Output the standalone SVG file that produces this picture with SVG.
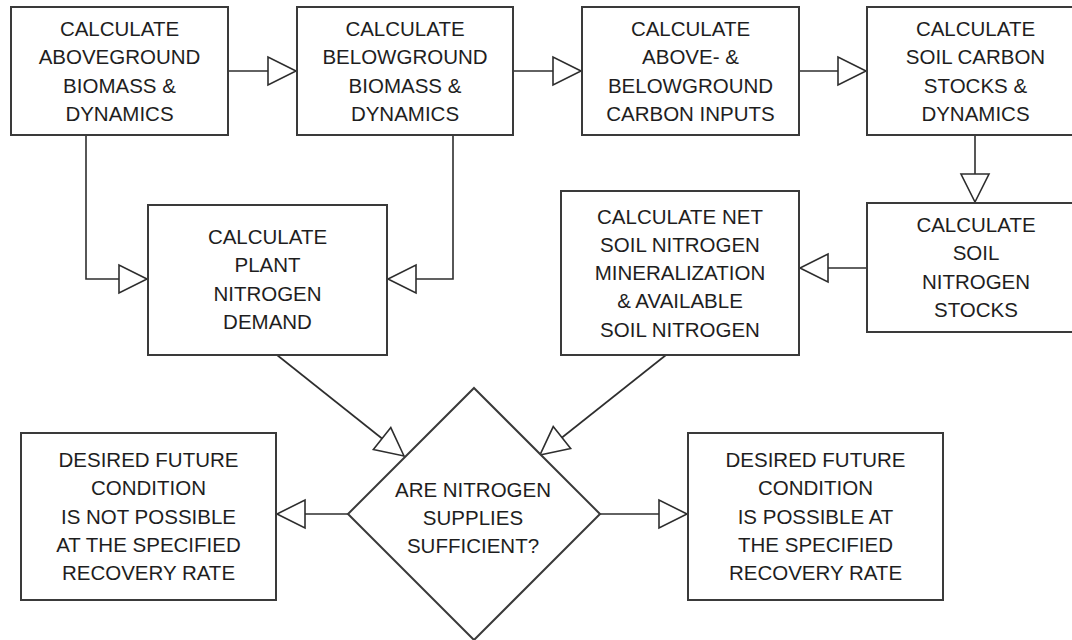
<svg xmlns="http://www.w3.org/2000/svg" width="1072" height="640" viewBox="0 0 1072 640">
  <style>
    .box { fill: #ffffff; stroke: #3a3a3a; stroke-width: 2; }
    .lbl { font-family: "Liberation Sans", Arial, sans-serif; font-size: 20.5px; fill: #1e1e1e; text-anchor: middle; }
    .wire { fill: none; stroke: #2e2e2e; stroke-width: 1.6; marker-end: url(#open-tri); }
  </style>
  <defs>
    <!-- hollow triangular arrowhead, tip sits on the line end -->
    <marker id="open-tri" markerUnits="userSpaceOnUse" markerWidth="34" markerHeight="34" viewBox="-31 -17 34 34" refX="0" refY="0" orient="auto" overflow="visible">
      <path d="M0,0 L-28,-14 L-28,14 Z" fill="#ffffff" stroke="#2e2e2e" stroke-width="1.6" stroke-linejoin="miter"/>
    </marker>
  </defs>
  <rect width="1072" height="640" fill="#ffffff"/>

  <g id="connectors">
    <line class="wire" x1="228" y1="71" x2="296" y2="71"/>
    <line class="wire" x1="513" y1="71" x2="581" y2="71"/>
    <line class="wire" x1="799" y1="71" x2="866" y2="71"/>
    <line class="wire" x1="975" y1="135" x2="975" y2="202"/>
    <line class="wire" x1="867" y1="268" x2="800" y2="268"/>
    <path class="wire" d="M86,135 V279 H147"/>
    <path class="wire" d="M453,135 V279 H388"/>
    <line class="wire" x1="277" y1="355" x2="404" y2="456"/>
    <line class="wire" x1="666" y1="355" x2="540" y2="455"/>
    <line class="wire" x1="348" y1="514" x2="277" y2="514"/>
    <line class="wire" x1="600" y1="514" x2="687" y2="514"/>
  </g>

  <g id="aboveground-biomass">
    <rect class="box" x="11" y="7" width="217" height="128"/>
    <text class="lbl" x="119.5" y="36">CALCULATE</text>
    <text class="lbl" x="119.5" y="64.3">ABOVEGROUND</text>
    <text class="lbl" x="119.5" y="92.6">BIOMASS &amp;</text>
    <text class="lbl" x="119.5" y="120.9">DYNAMICS</text>
  </g>

  <g id="belowground-biomass">
    <rect class="box" x="297" y="7" width="216" height="128"/>
    <text class="lbl" x="405" y="36">CALCULATE</text>
    <text class="lbl" x="405" y="64.3">BELOWGROUND</text>
    <text class="lbl" x="405" y="92.6">BIOMASS &amp;</text>
    <text class="lbl" x="405" y="120.9">DYNAMICS</text>
  </g>

  <g id="carbon-inputs">
    <rect class="box" x="582" y="7" width="217" height="128"/>
    <text class="lbl" x="690.5" y="36">CALCULATE</text>
    <text class="lbl" x="690.5" y="64.3">ABOVE- &amp;</text>
    <text class="lbl" x="690.5" y="92.6">BELOWGROUND</text>
    <text class="lbl" x="690.5" y="120.9">CARBON INPUTS</text>
  </g>

  <g id="soil-carbon">
    <rect class="box" x="867" y="7" width="217" height="128"/>
    <text class="lbl" x="975.5" y="36">CALCULATE</text>
    <text class="lbl" x="975.5" y="64.3">SOIL CARBON</text>
    <text class="lbl" x="975.5" y="92.6">STOCKS &amp;</text>
    <text class="lbl" x="975.5" y="120.9">DYNAMICS</text>
  </g>

  <g id="soil-nitrogen-stocks">
    <rect class="box" x="867" y="203" width="217" height="129"/>
    <text class="lbl" x="976" y="232">CALCULATE</text>
    <text class="lbl" x="976" y="260.3">SOIL</text>
    <text class="lbl" x="976" y="288.6">NITROGEN</text>
    <text class="lbl" x="976" y="316.9">STOCKS</text>
  </g>

  <g id="nitrogen-mineralization">
    <rect class="box" x="561" y="191" width="238" height="164"/>
    <text class="lbl" x="680" y="223.5">CALCULATE NET</text>
    <text class="lbl" x="680" y="251.8">SOIL NITROGEN</text>
    <text class="lbl" x="680" y="280.1">MINERALIZATION</text>
    <text class="lbl" x="680" y="308.4">&amp; AVAILABLE</text>
    <text class="lbl" x="680" y="336.7">SOIL NITROGEN</text>
  </g>

  <g id="plant-nitrogen-demand">
    <rect class="box" x="148" y="205" width="239" height="150"/>
    <text class="lbl" x="267.5" y="244">CALCULATE</text>
    <text class="lbl" x="267.5" y="272.3">PLANT</text>
    <text class="lbl" x="267.5" y="300.6">NITROGEN</text>
    <text class="lbl" x="267.5" y="328.9">DEMAND</text>
  </g>

  <g id="supply-check">
    <polygon class="box" points="474,388 600,514 474,640 348,514" stroke-width="1.6"/>
    <text class="lbl" x="473" y="497">ARE NITROGEN</text>
    <text class="lbl" x="473" y="525">SUPPLIES</text>
    <text class="lbl" x="473" y="553">SUFFICIENT?</text>
  </g>

  <g id="not-possible">
    <rect class="box" x="21" y="433" width="255" height="167"/>
    <text class="lbl" x="148.5" y="467">DESIRED FUTURE</text>
    <text class="lbl" x="148.5" y="495.3">CONDITION</text>
    <text class="lbl" x="148.5" y="523.6">IS NOT POSSIBLE</text>
    <text class="lbl" x="148.5" y="551.9">AT THE SPECIFIED</text>
    <text class="lbl" x="148.5" y="580.2">RECOVERY RATE</text>
  </g>

  <g id="possible">
    <rect class="box" x="688" y="433" width="255" height="167"/>
    <text class="lbl" x="815.5" y="467">DESIRED FUTURE</text>
    <text class="lbl" x="815.5" y="495.3">CONDITION</text>
    <text class="lbl" x="815.5" y="523.6">IS POSSIBLE AT</text>
    <text class="lbl" x="815.5" y="551.9">THE SPECIFIED</text>
    <text class="lbl" x="815.5" y="580.2">RECOVERY RATE</text>
  </g>
</svg>
